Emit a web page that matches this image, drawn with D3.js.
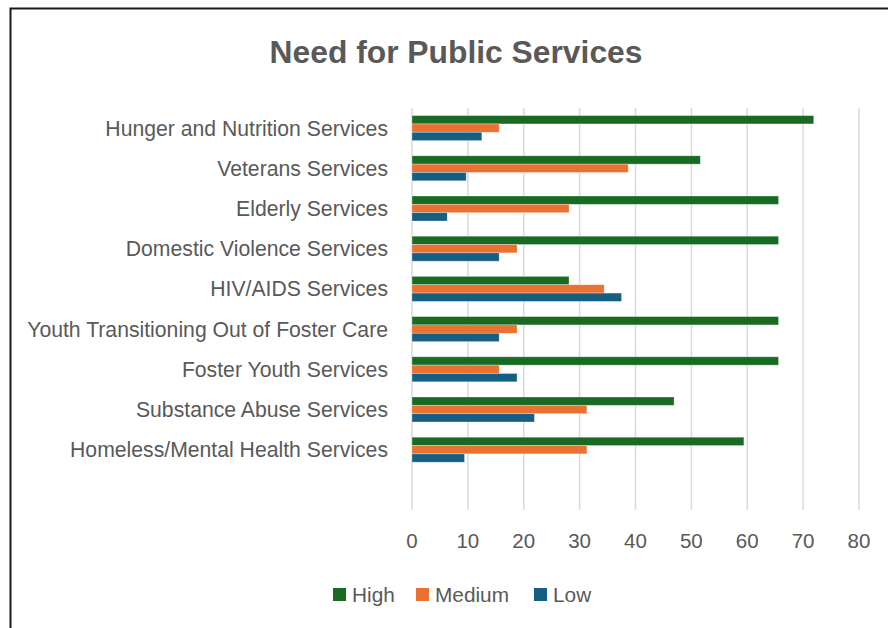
<!DOCTYPE html>
<html>
<head>
<meta charset="utf-8">
<script src="https://cdn.jsdelivr.net/npm/d3@7"></script>
<style>
  body { margin: 0; background: #fff; }
  text { font-family: "Liberation Sans", Arial, sans-serif; fill: #595959; }
</style>
</head>
<body>
<svg></svg>
<script>
const size = { w: 888, h: 628 };
const plot = { l: 412, r: 859, t: 108, b: 510 };

// categories top to bottom, blank row at the end as in the sheet
const categories = [
	"Hunger and Nutrition Services",
	"Veterans Services",
	"Elderly Services",
	"Domestic Violence Services",
	"HIV/AIDS Services",
	"Youth Transitioning Out of Foster Care",
	"Foster Youth Services",
	"Substance Abuse Services",
	"Homeless/Mental Health Services",
	""
];
const series = ["High", "Medium", "Low"];
const high = [71.9, 51.6, 65.6, 65.6, 28.1, 65.6, 65.6, 46.9, 59.4];
const medium = [15.6, 38.7, 28.1, 18.8, 34.4, 18.8, 15.6, 31.3, 31.3];
const low = [12.5, 9.7, 6.3, 15.6, 37.5, 15.6, 18.8, 21.9, 9.4];
const xTicks = [0, 10, 20, 30, 40, 50, 60, 70, 80];
const colors = ["#196B24", "#E97132", "#156082"];

const values = [high, medium, low];
const rows = categories.slice(0, 9).map((c, i) => ({
	cat: c,
	vals: series.map((s, j) => ({ key: s, v: values[j][i] }))
}));

const svg = d3.select("svg").attr("width", size.w).attr("height", size.h);

// chart frame (only left and top edges fall inside the picture)
svg.append("rect")
	.attr("x", 10.5).attr("y", 8.5)
	.attr("width", 900).attr("height", 700)
	.attr("fill", "none")
	.attr("stroke", "#1a1a1a")
	.attr("stroke-width", 2);

svg.append("text")
	.attr("x", 456)
	.attr("y", 63)
	.attr("text-anchor", "middle")
	.style("font-size", "31.8px")
	.style("font-weight", "bold")
	.text("Need for Public Services");

const x = d3.scaleLinear().domain([0, 80]).range([plot.l, plot.r]);
const y = d3.scaleBand().domain(categories).range([plot.t, plot.b]).paddingInner(0.378).paddingOuter(0.189);
const ySub = d3.scaleBand().domain(series).range([0, y.bandwidth()]);
const color = d3.scaleOrdinal().domain(series).range(colors);

// gridlines
svg.append("g")
	.selectAll("line")
	.data(xTicks)
	.join("line")
	.attr("x1", (d) => x(d)).attr("x2", (d) => x(d))
	.attr("y1", plot.t).attr("y2", plot.b)
	.attr("stroke", "#d9d9d9")
	.attr("stroke-width", 1.5);

// x tick labels
svg.append("g")
	.selectAll("text")
	.data(xTicks)
	.join("text")
	.attr("x", (d) => x(d))
	.attr("y", 548)
	.attr("text-anchor", "middle")
	.style("font-size", "20.5px")
	.text((d) => d);

// category labels
svg.append("g")
	.selectAll("text")
	.data(rows)
	.join("text")
	.attr("x", 388)
	.attr("y", (d) => y(d.cat) + y.bandwidth() / 2)
	.attr("dy", "0.35em")
	.attr("text-anchor", "end")
	.style("font-size", "21.2px")
	.text((d) => d.cat);

// bars
svg.append("g")
	.selectAll("g")
	.data(rows)
	.join("g")
	.attr("transform", (d) => `translate(0, ${y(d.cat)})`)
	.selectAll("rect")
	.data((d) => d.vals)
	.join("rect")
	.attr("x", x(0))
	.attr("y", (d) => ySub(d.key))
	.attr("width", (d) => x(d.v) - x(0))
	.attr("height", ySub.bandwidth())
	.attr("fill", (d) => color(d.key))
	.attr("stroke", "#fff")
	.attr("stroke-opacity", 0.4)
	.attr("stroke-width", 0.75);

// legend
const legendX = [333, 416, 534];
const legend = svg.append("g")
	.selectAll("g")
	.data(series)
	.join("g")
	.attr("transform", (d, i) => `translate(${legendX[i]}, 588)`);
legend.append("rect")
	.attr("width", 13).attr("height", 13)
	.attr("fill", (d) => color(d));
legend.append("text")
	.attr("x", 19)
	.attr("y", 13.5)
	.style("font-size", "20.8px")
	.text((d) => d);
</script>
</body>
</html>
